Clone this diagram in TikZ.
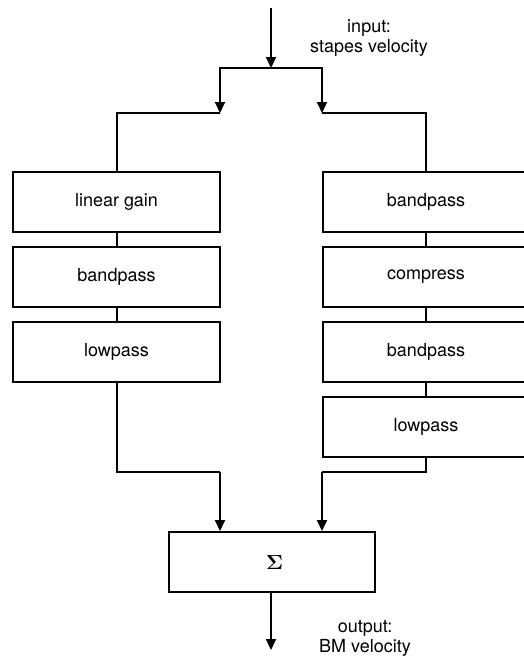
\documentclass[tikz,border=0pt]{standalone}
\usepackage{fontspec}
\setmainfont{TeX Gyre Heros}
\usepackage{tikz}
\usetikzlibrary{arrows.meta,positioning}

\tikzset{
	block/.style={draw,line width=2pt,minimum width=207pt,minimum height=60pt,inner sep=0pt,font=\fontsize{18}{21}\selectfont},
	arr/.style={-{Triangle[length=11pt,width=10pt]}},
	lbl/.style={align=center,font=\fontsize{18}{20}\selectfont}
}

\begin{document}
\begin{tikzpicture}[x=1pt,y=-1pt,line width=2pt]
			\useasboundingbox (0,0) rectangle (523,659);
			\node[block] (lin1) at (116.5,202) {linear gain};
			\node[block] (lin2) at (116.5,277) {bandpass};
			\node[block] (lin3) at (116.5,352) {lowpass};
			\node[block] (nl1) at (426,202) {bandpass};
			\node[block] (nl2) at (426,277) {compress};
			\node[block] (nl3) at (426,352) {bandpass};
			\node[block] (nl4) at (426,427) {lowpass};
			\node[block,minimum width=206pt] (sum) at (272,562) {\hspace*{5pt}\raisebox{-2pt}{\resizebox{17pt}{14pt}{\boldmath$\Sigma$}}};
			\node[lbl] (inlbl) at (369,38) {input:\\stapes velocity};
			\node[lbl] (outlbl) at (365,638) {output:\\BM velocity};
			\coordinate (in) at (271,8);
			\coordinate (split) at (271,68);
			\coordinate (lsplit) at (220,113);
			\coordinate (rsplit) at (322,113);
			\coordinate (lmerge) at (220,472);
			\coordinate (rmerge) at (322,472);
			\coordinate (out) at (271,650);
			\draw[arr] (in) -- (split);
			\draw[arr] (split) -| (lsplit);
			\draw[arr] (split) -| (rsplit);
			\draw (lsplit) -| (lin1.north);
			\draw (rsplit) -| (nl1.north);
			\draw (lin1) -- (lin2);
			\draw (lin2) -- (lin3);
			\draw (nl1) -- (nl2);
			\draw (nl2) -- (nl3);
			\draw (nl3) -- (nl4);
			\draw (lin3.south) |- (lmerge);
			\draw (nl4.south) |- (rmerge);
			\draw[arr] (lmerge) -- (lmerge |- sum.north);
			\draw[arr] (rmerge) -- (rmerge |- sum.north);
			\draw[arr] (sum.south -| out) -- (out);
		    \end{tikzpicture}
\end{document}
